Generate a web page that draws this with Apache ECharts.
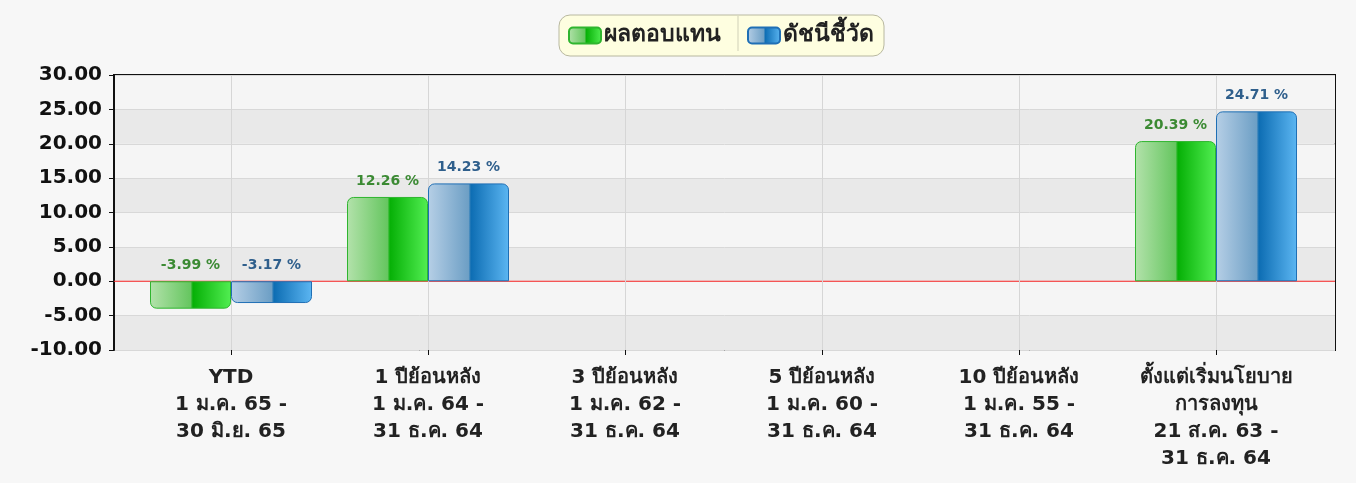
<!DOCTYPE html>
<html><head><meta charset="utf-8">
<script src="https://cdn.jsdelivr.net/npm/echarts@6/dist/echarts.min.js"></script>
<style>html,body{margin:0;padding:0;background:#fff}#c{width:1356px;height:483px}</style>
</head><body><div id="c"></div>
<script>
const categories = [
  'YTD\n1 ม.ค. 65 -\n30 มิ.ย. 65',
  '1 ปีย้อนหลัง\n1 ม.ค. 64 -\n31 ธ.ค. 64',
  '3 ปีย้อนหลัง\n1 ม.ค. 62 -\n31 ธ.ค. 64',
  '5 ปีย้อนหลัง\n1 ม.ค. 60 -\n31 ธ.ค. 64',
  '10 ปีย้อนหลัง\n1 ม.ค. 55 -\n31 ธ.ค. 64',
  'ตั้งแต่เริ่มนโยบาย\nการลงทุน\n21 ส.ค. 63 -\n31 ธ.ค. 64'
];
const fundReturn = [-3.99, 12.26, null, null, null, 20.39];
const benchmark = [-3.17, 14.23, null, null, null, 24.71];
const seriesNames = ['ผลตอบแทน', 'ดัชนีชี้วัด'];
const yTicks = {min: -10, max: 30, interval: 5};

const FONT = 'DejaVu Sans, Noto Sans, sans-serif';
const greenGrad = new echarts.graphic.LinearGradient(0,0,1,0,[
  {offset:0,color:'#b3e2ab'},{offset:0.5,color:'#66c660'},{offset:0.53,color:'#06b006'},{offset:1,color:'#52ee52'}]);
const blueGrad = new echarts.graphic.LinearGradient(0,0,1,0,[
  {offset:0,color:'#b6cfe6'},{offset:0.5,color:'#6d9fc5'},{offset:0.53,color:'#0d6db3'},{offset:1,color:'#5cb6f2'}]);

function mk(vals){
  return vals.map(v => v == null ? null : {value: v, itemStyle:{borderRadius: v < 0 ? [0,0,6,6] : [6,6,0,0]}});
}

const chart = echarts.init(document.getElementById('c'));
chart.setOption({
  backgroundColor: '#f7f7f7',
  animation: false,
  legend: {
    top: 15, left: 559,
    backgroundColor: '#fefee0', borderColor: '#b8b8a0', borderWidth: 1, borderRadius: 11,
    padding: [9, 10, 9, 9], itemGap: 26, itemWidth: 32, itemHeight: 16,
    textStyle: {fontFamily: FONT, fontWeight: 'bold', fontSize: 23, color: '#222', padding: [0, 0, 0, -2]},
    data: seriesNames
  },
  graphic: [{type: 'line', shape: {x1: 738, y1: 16, x2: 738, y2: 51}, style: {stroke: '#d0d0b8', lineWidth: 1}, z: 100}],
  grid: [
    {left: 114, right: 21, top: 75, bottom: 133, show: true, backgroundColor: '#f4f4f4', borderColor: '#111', borderWidth: 2},
    {left: 231, right: 140, top: 75, bottom: 133}
  ],
  xAxis: [
    {gridIndex: 0, type: 'value', min: 0, max: 1, show: false, axisLine: {show: false, onZero: false}},
    {gridIndex: 1, type: 'category', data: categories, boundaryGap: false, z: 3,
     axisLine: {show: false, onZero: false},
     axisTick: {show: true, length: 5, lineStyle: {color: '#111'}},
     splitLine: {show: true, lineStyle: {color: '#d6d6d6', width: 1}},
     axisLabel: {interval: 0, margin: 14, fontFamily: FONT, fontWeight: 'bold', fontSize: 20, lineHeight: 27, color: '#222'}}
  ],
  yAxis: [
    {gridIndex: 0, type: 'value', min: yTicks.min, max: yTicks.max, interval: yTicks.interval,
     axisLine: {show: true, onZero: false, lineStyle: {color: '#111', width: 2}},
     axisTick: {show: true, length: 5, lineStyle: {color: '#111'}},
     splitLine: {show: true, lineStyle: {color: '#d8d8d8'}},
     splitArea: {show: true, areaStyle: {color: ['#e9e9e9', '#f5f5f5']}},
     axisLabel: {margin: 12, fontFamily: FONT, fontWeight: 'bold', fontSize: 20, color: '#111', formatter: v => v.toFixed(2)}},
    {gridIndex: 1, type: 'value', min: yTicks.min, max: yTicks.max, interval: yTicks.interval, show: false}
  ],
  series: [
    {name: 'zero', type: 'line', xAxisIndex: 0, yAxisIndex: 0, data: [[0, 0], [1, 0]], symbol: 'none', silent: true, z: 2,
     lineStyle: {color: '#ff2a2a', width: 1.2}, itemStyle: {color: '#ff2a2a'}},
    {name: seriesNames[0], type: 'bar', xAxisIndex: 1, yAxisIndex: 1, data: mk(fundReturn), barWidth: 81, barGap: '0%', clip: false, z: 3,
     itemStyle: {color: greenGrad, borderColor: '#2fb52f', borderWidth: 1},
     label: {show: true, position: 'top', distance: 9, fontFamily: FONT, fontWeight: 'bold', fontSize: 14, color: '#3b8a33', formatter: p => p.value.toFixed(2) + ' %'}},
    {name: seriesNames[1], type: 'bar', xAxisIndex: 1, yAxisIndex: 1, data: mk(benchmark), barWidth: 81, barGap: '0%', clip: false, z: 3,
     itemStyle: {color: blueGrad, borderColor: '#1f6fb5', borderWidth: 1},
     label: {show: true, position: 'top', distance: 9, fontFamily: FONT, fontWeight: 'bold', fontSize: 14, color: '#2f5f8c', formatter: p => p.value.toFixed(2) + ' %'}}
  ]
});
</script></body></html>
